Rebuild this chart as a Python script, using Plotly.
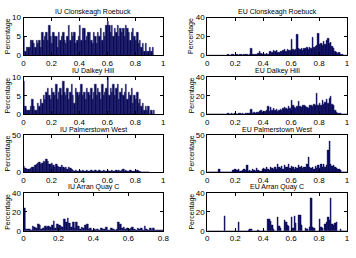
import plotly.graph_objects as go

titles = ["IU Clonskeagh Roebuck", "EU Clonskeagh Roebuck",
          "IU Dalkey Hill", "EU Dalkey Hill",
          "IU Palmerstown West", "EU Palmerstown West",
          "IU Arran Quay C", "EU Arran Quay C"]

bin_width = 0.01

iu_clonskeagh = [5,1,2,2,2,4,4,3,2,4, 3,4,2,6,4,5,6,4,8,5, 3,6,5,5,2,6,4,5,6,4,
                 3,5,8,4,6,5,6,3,4,5, 8,4,7,7,4,5,6,6,4,3, 6,5,3,6,5,7,4,6,5,8,
                 9,8,6,8,5,7,6,8,5,7, 6,7,5,8,7,6,4,6,7,5, 4,6,3,4,2,3,1,3,1,1,
                 2,1,2,0]
eu_clonskeagh = [0,0,0,0,0,0,0,0,0,0, 0,0,0,0,1,1,0,1,1,0, 1,1,0,1,1,0,1,1,1,0,
                 1,7,1,1,1,1,2,4,2,1, 2,1,2,1,4,4,3,5,4,5, 3,3,4,4,5,6,4,6,5,5,
                 17,6,5,6,22,7,6,7,5,7, 7,8,6,8,7,19,8,9,10,23, 11,12,10,14,11,16,18,12,13,9,
                 7,4,3,2,3,1,1,0,0,0]
iu_dalkey = [9,2,1,1,1,2,4,2,1,1, 3,2,4,3,5,4,6,7,5,4, 7,6,5,8,4,6,7,5,9,6,
             5,7,4,6,8,5,3,7,6,5, 6,8,5,6,4,7,6,5,7,4, 6,8,5,7,6,4,8,5,6,7,
             10,5,7,6,8,5,7,8,4,6, 7,5,6,8,4,6,5,7,3,5, 4,6,3,4,2,3,1,2,1,2,
             0,1,0,1]
eu_dalkey = [0,0,0,0,0,0,0,0,0,0, 0,0,0,0,1,1,0,1,0,1, 1,0,1,1,0,1,0,1,1,1,
             1,5,1,2,1,2,2,3,4,2, 3,3,4,8,3,7,4,6,4,5, 3,4,5,4,6,7,6,5,8,6,
             15,9,7,6,8,14,8,7,9,10, 8,7,6,9,10,8,11,9,23,10, 12,9,15,11,13,16,12,17,19,11,
             10,4,2,1,1,1,0,0,0,0]
iu_palmerstown = [8,5,4,3,4,5,6,7,9,10, 12,13,11,12,14,13,17,15,11,10, 12,9,7,10,8,6,7,9,6,5,
                  7,4,6,5,3,2,1,2,1,1, 2,1,2,1,1,2,1,1,2,1, 1,2,1,1,2,1,1,2,1,1,
                  2,1,1,2,1,1,2,1,2,1, 2,3,1,2,1,1,2,1,1,1, 1,2,1,1,0,0,0,0,0,0]
eu_palmerstown = [0,0,0,0,0,0,0,0,3,0, 0,0,0,0,0,0,0,0,2,3, 3,2,3,1,1,2,3,2,9,1,
                  2,1,3,2,1,5,2,1,1,4, 5,3,6,4,2,7,5,4,6,3, 10,6,5,8,4,9,7,6,10,5,
                  8,6,4,7,5,9,6,8,5,7, 6,10,20,6,5,6,4,8,5,9, 5,11,6,10,7,9,30,42,10,8,
                  9,6,5,3,3,2,0,0,0,0]
iu_arran = [24,2,2,2,1,5,4,3,7,6, 2,3,5,4,5,4,6,10,3,7, 6,5,4,12,9,13,8,4,9,3,
            9,5,2,4,3,6,7,2,3,1, 2,1,2,1,3,2,2,4,1,1, 3,2,1,2,9,7,3,4,2,3,
            2,3,4,2,1,3,2,3,1,5, 2,1,3,1,3,1,1,1,1,1]
eu_arran = [0,0,0,0,0,0,0,0,0,0, 0,0,16,0,0,0,0,0,0,0, 0,0,9,0,0,0,0,0,0,1,
            2,2,0,0,0,0,1,0,0,0, 1,0,0,12,12,10,6,2,0,0, 14,5,3,0,0,11,9,6,5,0,
            14,3,16,8,0,17,17,6,0,0, 3,2,0,4,35,4,3,0,0,0, 12,4,3,0,7,9,14,11,35,7,
            6,8,9,0,0,2,0,0,0,0]

series = [iu_clonskeagh, eu_clonskeagh, iu_dalkey, eu_dalkey,
          iu_palmerstown, eu_palmerstown, iu_arran, eu_arran]

y_ranges = [[0, 10], [0, 40], [0, 10], [0, 40], [0, 50], [0, 50], [0, 40], [0, 40]]
y_ticks = [[0, 5, 10], [0, 20, 40], [0, 5, 10], [0, 20, 40], [0, 50], [0, 50],
           [0, 20, 40], [0, 20, 40]]
x_ranges = [[0, 1]] * 6 + [[0, 0.8], [0, 1]]
x_ticks = [[0, 0.2, 0.4, 0.6, 0.8, 1]] * 6 + [[0, 0.2, 0.4, 0.6, 0.8], [0, 0.2, 0.4, 0.6, 0.8, 1]]
x_ticktext = [["0", "0.2", "0.4", "0.6", "0.8", "1"]] * 6 + [["0", "0.2", "0.4", "0.6", "0.8"],
                                                             ["0", "0.2", "0.4", "0.6", "0.8", "1"]]

W, H = 356, 258
col_px = [(22, 165), (210, 353)]
row_px = [(14, 53), (76, 114), (136, 174), (196, 235)]

fig = go.Figure()
font = "Liberation Sans, Arial, sans-serif"
annotations = []
for i, vals in enumerate(series):
    r, c = divmod(i, 2)
    n = i + 1
    xa = "x" if n == 1 else f"x{n}"
    ya = "y" if n == 1 else f"y{n}"
    xs = [k * bin_width + bin_width / 2 for k in range(len(vals))]
    fig.add_trace(go.Bar(x=xs, y=vals, width=bin_width, xaxis=xa, yaxis=ya,
                         marker=dict(color="#0b0b5c", line=dict(color="#0b0b5c", width=0.4)),
                         showlegend=False, hoverinfo="skip"))
    x0, x1 = col_px[c]
    y0, y1 = row_px[r]
    xd = [x0 / W, x1 / W]
    yd = [1 - y1 / H, 1 - y0 / H]
    common = dict(showline=True, mirror="ticks", linecolor="black", linewidth=1,
                  ticks="inside", ticklen=3, tickcolor="black", showgrid=False,
                  zeroline=False, tickfont=dict(size=8, color="black", family=font))
    fig.layout[f"xaxis{n if n > 1 else ''}"] = dict(domain=xd, anchor=ya, range=x_ranges[i],
                                                     tickvals=x_ticks[i], ticktext=x_ticktext[i],
                                                     **common)
    fig.layout[f"yaxis{n if n > 1 else ''}"] = dict(domain=yd, anchor=xa, range=y_ranges[i],
                                                     tickvals=y_ticks[i], **common)
    annotations.append(dict(text=titles[i], xref="paper", yref="paper",
                            x=(xd[0] + xd[1]) / 2, y=yd[1], yanchor="bottom", xanchor="center",
                            yshift=0, showarrow=False,
                            font=dict(size=7, color="black", family=font)))
    annotations.append(dict(text="Percentage", xref="paper", yref="paper",
                            x=(x0 - 16) / W, y=(yd[0] + yd[1]) / 2, xanchor="center",
                            yanchor="middle", textangle=-90, showarrow=False,
                            font=dict(size=7, color="black", family=font)))

fig.update_layout(width=W, height=H, margin=dict(l=0, r=0, t=0, b=0),
                  paper_bgcolor="white", plot_bgcolor="white", bargap=0,
                  annotations=annotations)
fig.write_html("out.html")
